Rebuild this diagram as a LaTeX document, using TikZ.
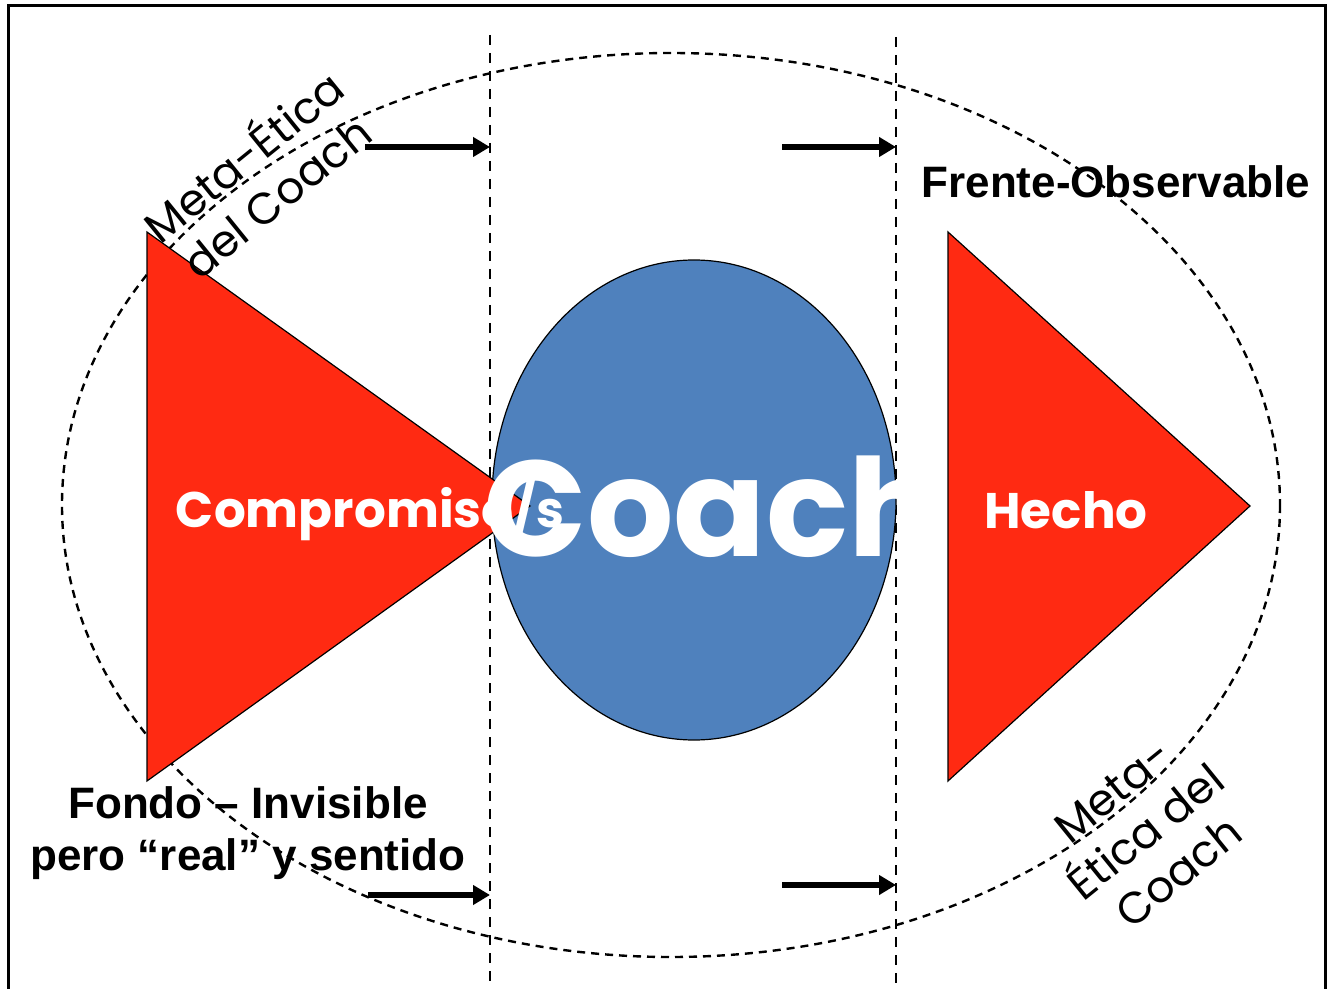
\documentclass[tikz,border=0pt]{standalone}
\usepackage{fontspec}
\setmainfont{Liberation Sans}
\newfontfamily\comicf{Poppins}
\usetikzlibrary{arrows.meta,shapes.geometric}
\definecolor{tri}{RGB}{255,42,18}
\definecolor{cblue}{RGB}{79,129,189}
\begin{document}
\begin{tikzpicture}[x=0.5pt,y=-0.5pt,
  guide/.style={dash pattern=on 5pt off 4pt, line width=1.2pt},
  ring/.style={dash pattern=on 4pt off 3pt, line width=1.2pt},
  push/.style={line width=3.2pt, -{Triangle[length=8.5pt,width=9.5pt]}},
  redtri/.style={fill=tri, draw=black, line width=0.6pt},
  wtext/.style={text=white, font=\comicf\bfseries\fontsize{25pt}{30pt}\selectfont, inner sep=0pt},
  btext/.style={text=black, font=\bfseries\fontsize{22pt}{26pt}\selectfont, inner sep=0pt, align=center},
  meta/.style={text=black, font=\comicf\fontsize{22pt}{26pt}\selectfont, inner sep=0pt, align=center, rotate=39}]
\useasboundingbox (0,0) rectangle (1328,989);
\fill[white] (0,0) rectangle (1328,989);
% frame
\draw[line width=1.5pt] (8,6) rectangle (1325,1010);
% dashed ellipse
\draw[ring] (671,505) ellipse [x radius=609, y radius=452];
% vertical guides
\coordinate (g1t) at (490,35);
\coordinate (g1b) at (490,995);
\coordinate (g2t) at (896,37);
\coordinate (g2b) at (896,995);
\draw[guide] (g1t) -- (g1b);
\draw[guide] (g2t) -- (g2b);
% central circle
\node[draw=black, line width=0.6pt, fill=cblue, ellipse, minimum width=202pt, minimum height=240pt, inner sep=0pt] (coachc) at (694,500) {};
% triangles
\draw[redtri] (147,232) coordinate (lt1) -- (147,781) coordinate (lt2) -- (530,506) coordinate (lt3) -- cycle;
\draw[redtri] (948,232) coordinate (rt1) -- (948,781) coordinate (rt2) -- (1250,506) coordinate (rt3) -- cycle;
% arrows
\coordinate (a1s) at (365,147); \coordinate (a1e) at (490,147);
\coordinate (a2s) at (782,147); \coordinate (a2e) at (896,147);
\coordinate (a3s) at (368,895); \coordinate (a3e) at (490,895);
\coordinate (a4s) at (782,885); \coordinate (a4e) at (896,885);
\draw[push] (a1s) -- (a1e);
\draw[push] (a2s) -- (a2e);
\draw[push] (a3s) -- (a3e);
\draw[push] (a4s) -- (a4e);
% texts
\node[wtext, anchor=base] (comp) at (370,527) {Compromiso/s};
\node[wtext, anchor=base, font=\comicf\bfseries\fontsize{68pt}{68pt}\selectfont] (coach) at (712,556) {Coach};
\node[wtext, anchor=base] (hecho) at (1066,528) {Hecho};
\node[btext, anchor=base] (frente) at (1116,198) {Frente-Observable};
\node[btext, anchor=base] (fondo1) at (248,818) {Fondo – Invisible};
\node[btext, anchor=base] (fondo2) at (248,870) {pero “real” y sentido};
\node[meta] (meta1) at (258,174) {Meta-Ética\\del Coach};
\node[meta] (meta2) at (1146,832) {Meta-\\Ética del\\Coach};
\end{tikzpicture}
\end{document}
